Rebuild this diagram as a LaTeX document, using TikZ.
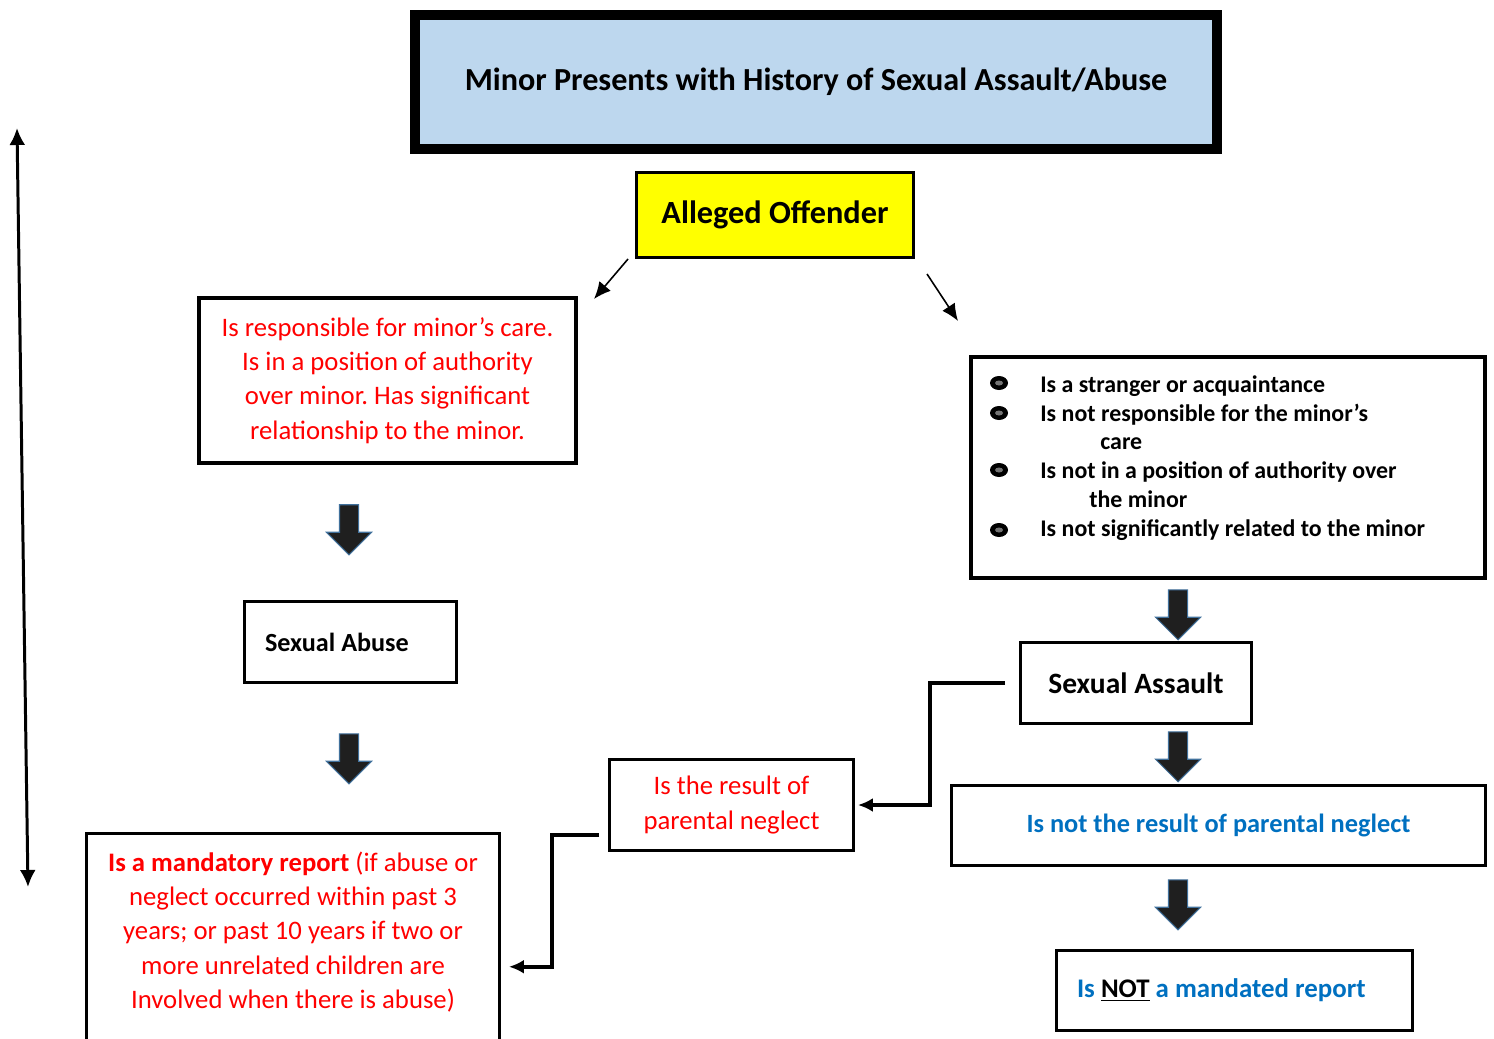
\documentclass[tikz,border=0pt]{standalone}
\usepackage{fontspec}
\setmainfont{Carlito}
\frenchspacing
\usetikzlibrary{arrows.meta}
\usetikzlibrary{shapes.arrows}
\usetikzlibrary{positioning}
\definecolor{mblue}{RGB}{189, 215, 238}
\definecolor{myellow}{RGB}{255, 255, 0}
\definecolor{mred}{RGB}{255, 0, 0}
\definecolor{mtext}{RGB}{0, 112, 192}
\definecolor{marrow}{RGB}{65, 113, 156}
\tikzset{box/.style = {draw, line width = 0.06cm, inner sep = 0, align = center}}
\tikzset{down/.style = {single arrow, shape border rotate = 270, fill = black!88, draw = marrow, line width = 0.6pt, inner sep = 0.18cm, minimum height = 1cm, single arrow head extend = 0.26cm}}
\tikzset{pointer/.style = {-{Latex[length = 0.34cm, width = 0.3cm]}, line width = 0.9pt}}
\tikzset{elbow/.style = {-{Latex[length = 0.3cm, width = 0.28cm]}, line width = 2pt}}
\tikzset{redtext/.style = {text = mred, font = \fontsize{15.2}{19.6}\selectfont}}
\tikzset{bluetext/.style = {text = mtext, font = \fontsize{15}{18}\selectfont\bfseries}}

\begin{document}
\begin{tikzpicture}[x = 0.02cm, y = -0.02cm]
    \useasboundingbox (0, 0) rectangle (1494, 1038);
    \clip (0, 0) rectangle (1494, 1038);

    \node [box, line width = 0.2cm, fill = mblue, minimum width = 16.04cm, minimum height = 2.68cm, font = \fontsize{18.3}{22}\selectfont\bfseries] (title) at (816, 82) {Minor Presents with History of Sexual Assault/Abuse};
    \node [box, fill = myellow, minimum width = 5.54cm, minimum height = 1.7cm, font = \fontsize{18.4}{22}\selectfont\bfseries] (offender) at (775, 215) {Alleged Offender};

    % left branch
    \node [box, redtext, line width = 0.08cm, minimum width = 7.54cm, minimum height = 3.3cm] (care) at (387.5, 380.5) {Is responsible for minor’s care.\\ Is in a position of authority\\ over minor. Has significant\\ relationship to the minor.};
    \node [box, text width = 3.42cm, inner xsep = 0.41cm, minimum height = 1.62cm, align = flush left, font = \fontsize{14.9}{18}\selectfont\bfseries] (abuse) at (350.5, 642) {Sexual Abuse};
    \node [box, minimum width = 8.26cm, minimum height = 4.33cm] (mandatory) at (293, 941.75) {};
    \node [redtext, align = center, inner sep = 0] (mandatorytext) at (293, 932) {\textbf{Is a mandatory report} (if abuse or\\ neglect occurred within past 3\\ years; or past 10 years if two or\\ more unrelated children are\\ Involved when there is abuse)};
    \node [box, redtext, minimum width = 4.88cm, minimum height = 1.82cm] (neglect) at (731.5, 805) {Is the result of\\ parental neglect};

    % right branch
    \node [box, line width = 0.08cm, minimum width = 10.28cm, minimum height = 4.42cm] (stranger) at (1228, 467.5) {};
    \node [anchor = west, inner sep = 0, align = left, font = \fontsize{13.6}{16.4}\selectfont\bfseries] (strangertext) at (1040, 458) {Is a stranger or acquaintance\\ Is not responsible for the minor’s\\ \hspace*{1.2cm}care\\ Is not in a position of authority over\\ \hspace*{0.98cm}the minor\\ Is not significantly related to the minor};
    \foreach \y in {383, 413, 470, 530} {
      \fill (999, \y) ellipse (9 and 7);
      \fill [black!55] (999, \y) ellipse (4 and 2.5);
    }
    \node [box, minimum width = 4.62cm, minimum height = 1.62cm, font = \fontsize{16.8}{20}\selectfont\bfseries] (assault) at (1136, 683) {Sexual Assault};
    \node [box, bluetext, minimum width = 10.68cm, minimum height = 1.6cm] (notneglect) at (1218.5, 825.5) {Is not the result of parental neglect};
    \node [box, bluetext, font = \fontsize{15.3}{18}\selectfont\bfseries, text width = 6.3cm, inner xsep = 0.41cm, minimum height = 1.6cm, align = flush left] (notmandated) at (1234.5, 990.5) {Is {\color{black}\underline{NOT}} a mandated report};

    % block arrows
    \node [down] (downa) at (349, 525) {};
    \node [down] (downb) at (349, 754) {};
    \node [down] (downc) at (1178, 610) {};
    \node [down] (downd) at (1178, 752) {};
    \node [down] (downe) at (1178, 900) {};

    % thin arrows
    \coordinate (offl) at (628, 259);
    \coordinate (carein) at (594, 299);
    \coordinate (offr) at (927, 274);
    \coordinate (strangerin) at (958, 321);
    \draw [pointer] (offl) -- (carein);
    \draw [pointer] (offr) -- (strangerin);

    \draw [elbow] ([xshift = -0.28cm]assault.west) -- ++(-75, 0) |- ([xshift = 0.06cm]neglect.east);
    \draw [elbow] ([shift = {(-0.18cm, -0.6cm)}]neglect.west) -- ++(-47, 0) |- ([shift = {(0.16cm, -0.5cm)}]mandatory.east);

    \coordinate (timetop) at (17, 128);
    \coordinate (timebottom) at (28, 887);
    \draw [{Latex[length = 0.34cm, width = 0.32cm]}-{Latex[length = 0.34cm, width = 0.32cm]}, line width = 1.7pt] (timetop) -- (timebottom);
  \end{tikzpicture}
\end{document}
